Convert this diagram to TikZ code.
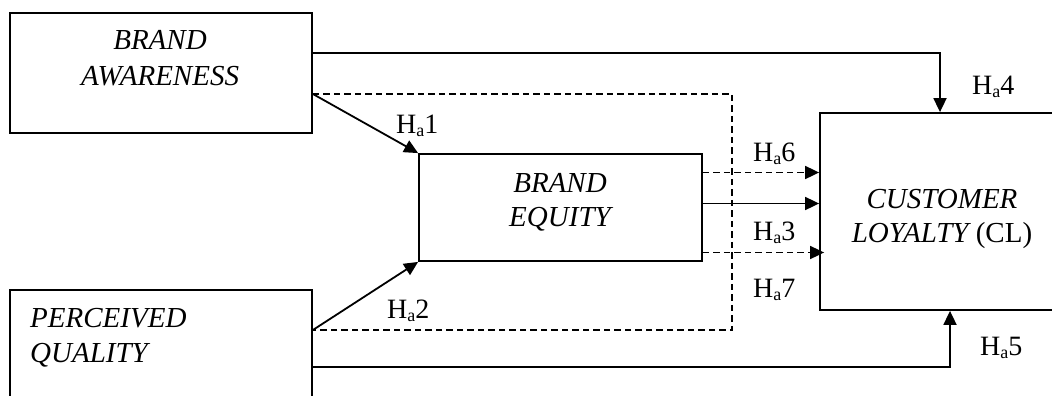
\documentclass[tikz,border=0pt]{standalone}
\usepackage{fontspec}
\setmainfont{Liberation Serif}
\usetikzlibrary{arrows.meta}

% hypothesis label: H with a small subscript a
\newcommand{\hyp}[1]{H\raisebox{-3.5pt}{\fontsize{18}{18}\selectfont a}#1}

\begin{document}
\begin{tikzpicture}[x=1pt,y=-1pt,
  box/.style={draw, line width=1.8pt, rectangle, inner sep=0pt},
  boxtext/.style={font=\fontsize{29}{35}\selectfont\itshape, inner sep=0pt},
  hlabel/.style={font=\fontsize{28}{33}\selectfont, inner sep=0pt, anchor=base west},
  link/.style={line width=1.8pt},
  arr/.style={link, -{Triangle[length=14pt,width=13pt]}},
  dashlink/.style={link, dash pattern=on 6.5pt off 4pt},
  dasharr/.style={dashlink, -{Triangle[length=14pt,width=13pt]}}]
\useasboundingbox (0,0) rectangle (1052,396);
\clip (0,0) rectangle (1052,396);

% construct boxes
\node[box, minimum width=302pt, minimum height=120pt] (ba) at (161,73) {};
\node[box, minimum width=283pt, minimum height=107pt] (be) at (560.5,207.5) {};
\node[box, minimum width=280pt, minimum height=197pt] (cl) at (960,211.5) {};
\node[box, minimum width=302pt, minimum height=130pt] (pq) at (161,355) {};

% box captions
\node[boxtext, anchor=base] (ba1) at (160,50) {BRAND};
\node[boxtext, anchor=base] (ba2) at (160,85) {AWARENESS};
\node[boxtext, anchor=base] (be1) at (560,192) {BRAND};
\node[boxtext, anchor=base] (be2) at (560,226) {EQUITY};
\node[boxtext, anchor=base] (cl1) at (942,208) {CUSTOMER};
\node[boxtext, anchor=base] (cl2) at (942,242) {LOYALTY \upshape(CL)};
\node[boxtext, anchor=base west] (pq1) at (30,327) {PERCEIVED};
\node[boxtext, anchor=base west] (pq2) at (30,362) {QUALITY};

% connection points
\coordinate (baTop) at ([yshift=20pt]ba.east);
\coordinate (baLow) at ([yshift=-21pt]ba.east);
\coordinate (pqTop) at ([yshift=25pt]pq.east);
\coordinate (pqLow) at ([yshift=-12pt]pq.east);
\coordinate (dTop) at (732,94);
\coordinate (dBot) at (732,330);
\coordinate (e6) at ([yshift=35pt]be.east);
\coordinate (e3) at ([yshift=4pt]be.east);
\coordinate (e7) at ([yshift=-45pt]be.east);

% direct effects
\draw[arr] (baTop) -| ([xshift=-20pt]cl.north);
\draw[arr] (pqLow) -| ([xshift=-10pt]cl.south);
\draw[arr] (baLow) -- (be.north west);
\draw[arr] (pqTop) -- (be.south west);
\draw[arr] (e3) -- (e3 -| cl.west);

% mediation paths
\draw[dashlink] (baLow) -- (dTop) -- (dBot) -- (pqTop);
\draw[dasharr] (e6) -- (e6 -| cl.west);
\draw[dasharr] (e7) -- ([xshift=5pt]e7 -| cl.west);

% hypothesis labels
\node[hlabel] (h1) at (396,133) {\hyp{1}};
\node[hlabel] (h2) at (387,318) {\hyp{2}};
\node[hlabel] (h6) at (753,161) {\hyp{6}};
\node[hlabel] (h3) at (753,240) {\hyp{3}};
\node[hlabel] (h7) at (753,297) {\hyp{7}};
\node[hlabel] (h4) at (972,94) {\hyp{4}};
\node[hlabel] (h5) at (980,355) {\hyp{5}};
\end{tikzpicture}
\end{document}
